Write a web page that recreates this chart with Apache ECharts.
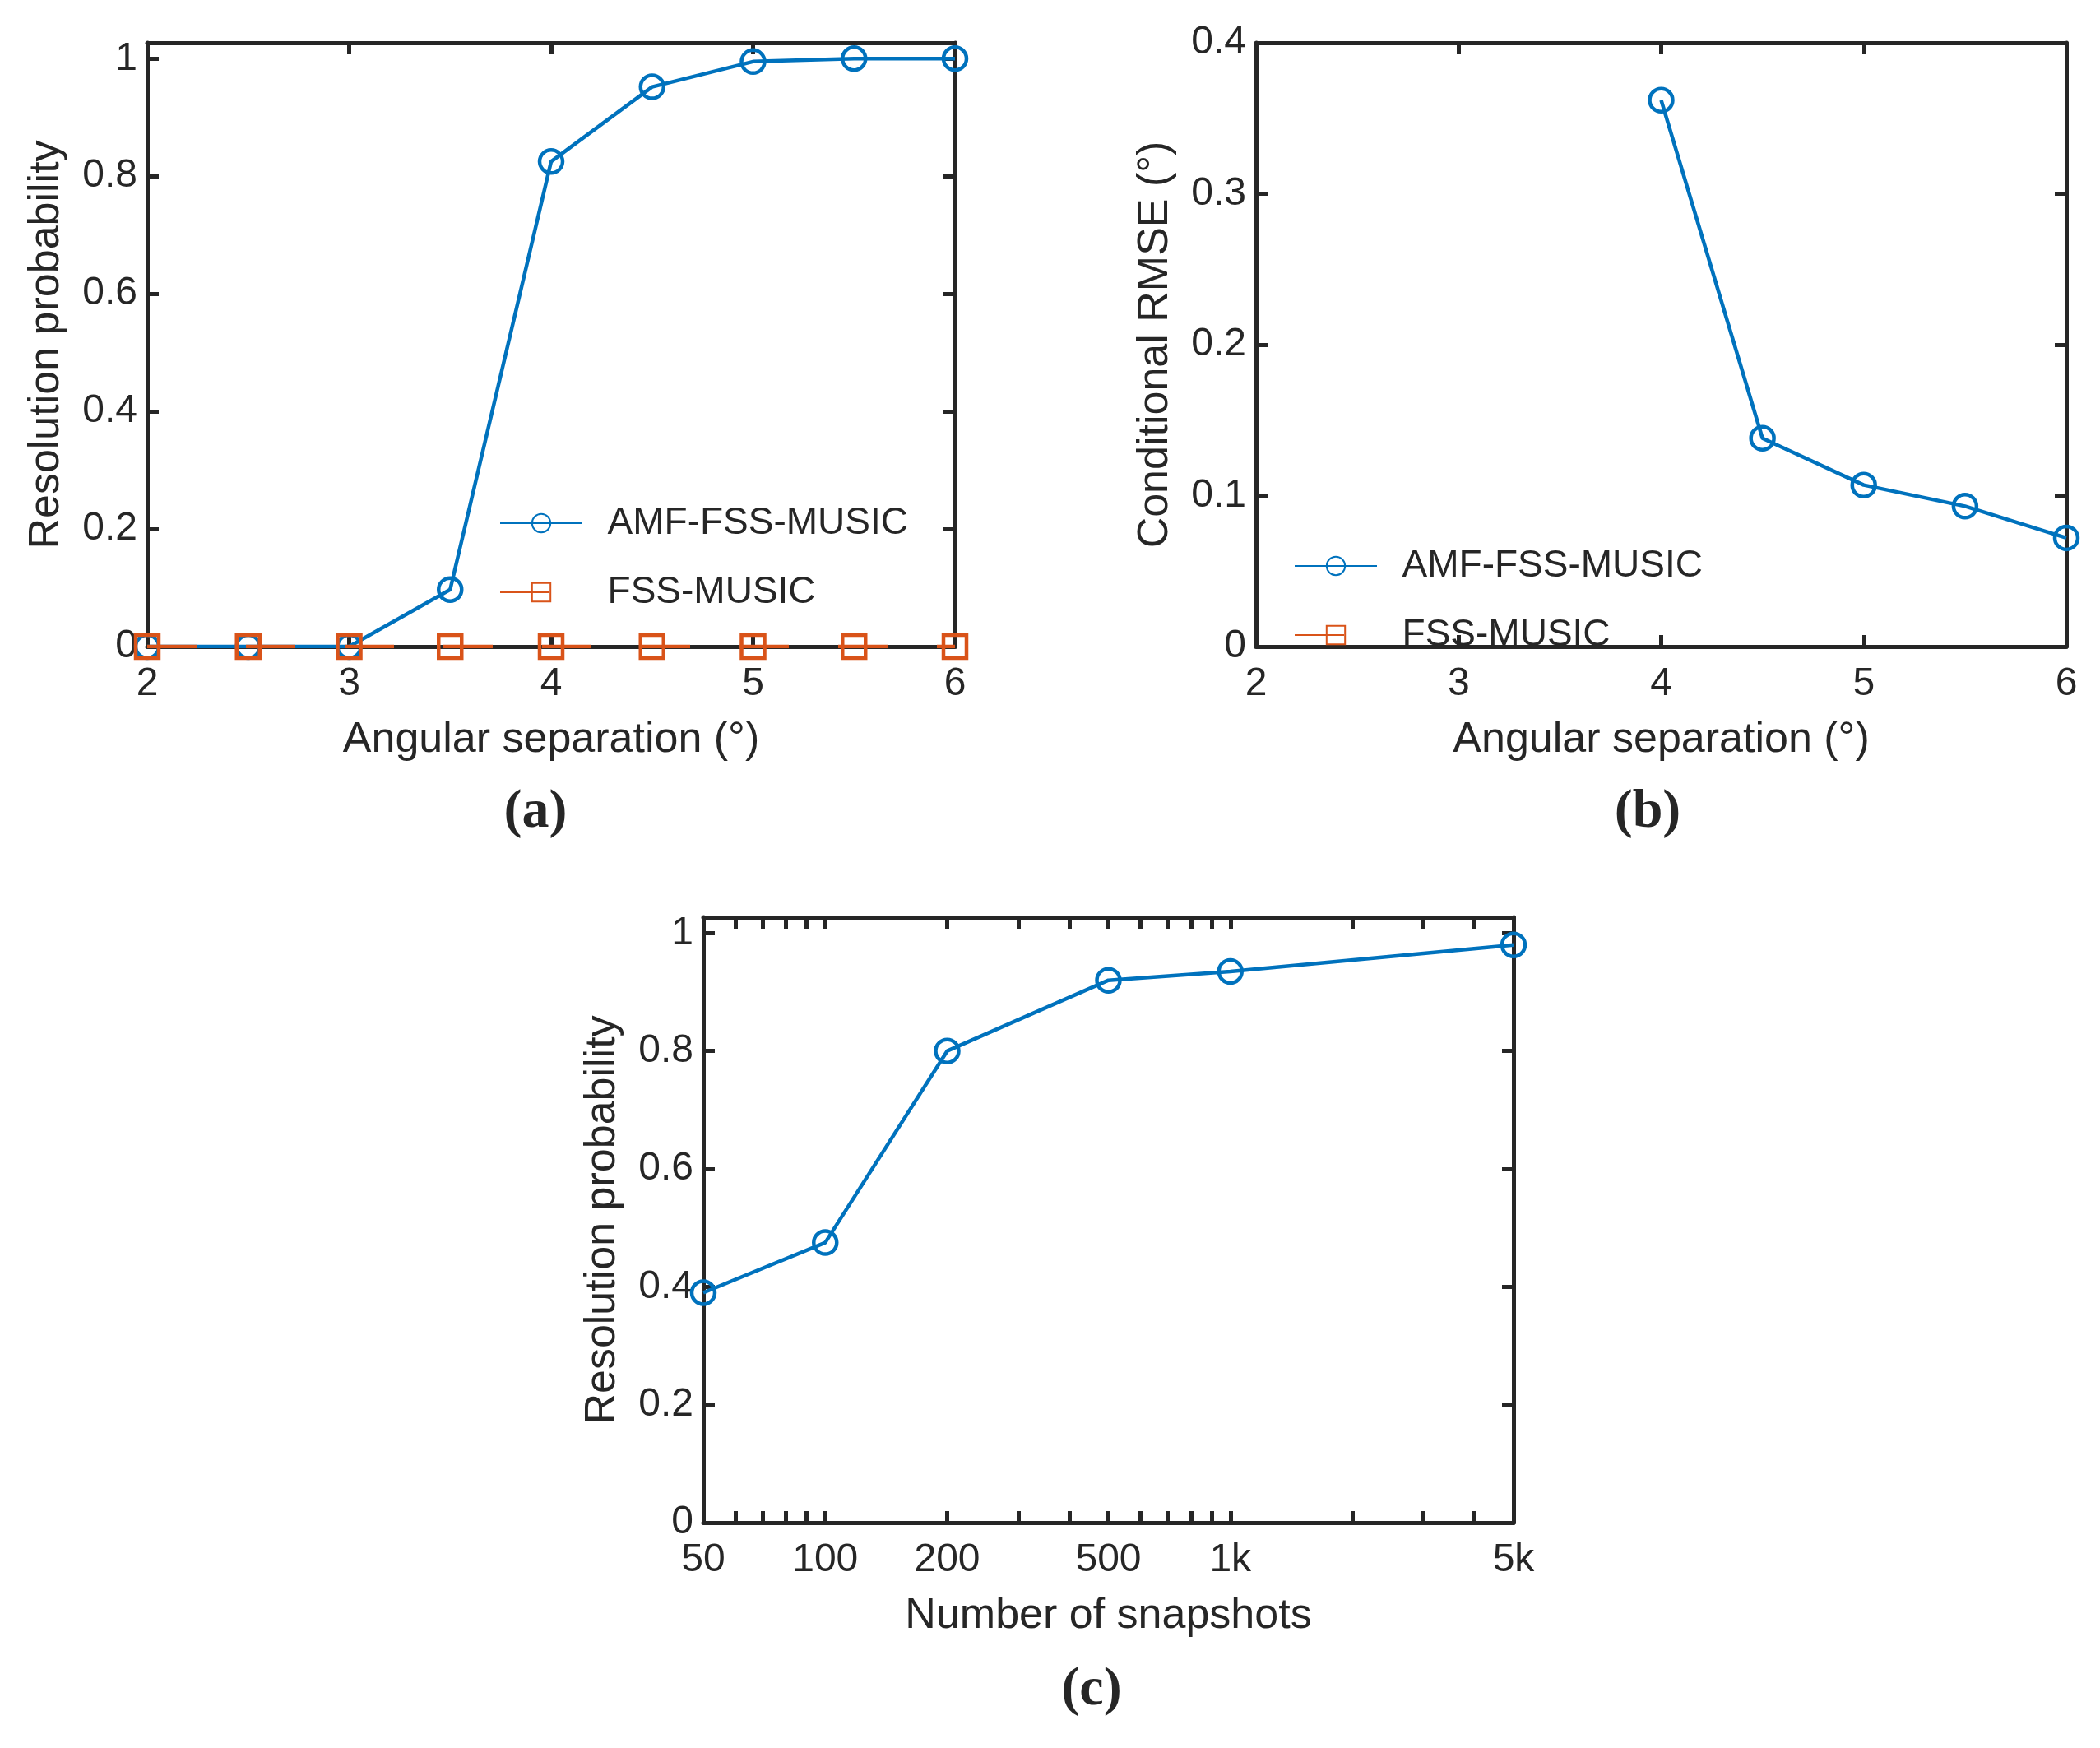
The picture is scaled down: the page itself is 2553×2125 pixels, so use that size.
<!DOCTYPE html>
<html>
<head>
<meta charset="utf-8">
<script src="https://cdn.jsdelivr.net/npm/echarts@6/dist/echarts.min.js"></script>
<style>
  html, body { margin: 0; padding: 0; background: #fff; }
  #main { width: 2553px; height: 2125px; }
</style>
</head>
<body>
<div id="main"></div>
<script>
'use strict';

// panel (a): resolution probability vs angular separation
var sepA = [2, 2.5, 3, 3.5, 4, 4.5, 5, 5.5, 6];
var amfA = [0, 0, 0, 0.097, 0.825, 0.952, 0.995, 1, 1];
var fssA = [0, 0, 0, 0, 0, 0, 0, 0, 0];

// panel (b): conditional RMSE vs angular separation
var sepB = [4, 4.5, 5, 5.5, 6];
var amfB = [0.362, 0.138, 0.107, 0.093, 0.072];

// panel (c): resolution probability vs snapshots (log x)
var snaps = [50, 100, 200, 500, 1000, 5000];
var amfC = [0.39, 0.475, 0.8, 0.92, 0.935, 0.98];
var snapTicks = [50, 100, 200, 500, 1000, 5000];
var snapLabels = ['50', '100', '200', '500', '1k', '5k'];
var snapMinor = [50, 60, 70, 80, 90, 100, 200, 300, 400, 500, 600, 700, 800, 900, 1000, 2000, 3000, 4000, 5000];
var probTicks = [0, 0.2, 0.4, 0.6, 0.8, 1];

var BLUE = '#0072BD', RED = '#D95319', INK = '#262626';
var FONT = 'Liberation Sans';

function zip(xs, ys) {
  return xs.map(function (x, i) { return [x, ys[i]]; });
}
function log10(v) { return Math.log(v) / Math.LN10; }

var tickStyle = { show: true, inside: true, length: 14, lineStyle: { color: INK, width: 5 } };
var lineStyle = { show: true, onZero: false, lineStyle: { color: INK, width: 5 } };
var labelStyle = { color: INK, fontFamily: FONT, fontSize: 48 };
var nameStyle = { color: INK, fontFamily: FONT, fontSize: 52 };
var DEG = '(\u00B0)';

function bottomX(grid, min, max, name, extra) {
  var a = {
    type: 'value', gridIndex: grid, min: min, max: max, interval: 1, position: 'bottom',
    axisLine: lineStyle, axisTick: tickStyle, splitLine: { show: false },
    axisLabel: Object.assign({ margin: 22 }, labelStyle),
    name: name, nameLocation: 'middle', nameGap: 88, nameTextStyle: nameStyle
  };
  return Object.assign(a, extra || {});
}
function topX(grid, min, max, extra) {
  var a = {
    type: 'value', gridIndex: grid, min: min, max: max, interval: 1, position: 'top',
    axisLine: lineStyle, axisTick: tickStyle, axisLabel: { show: false }, splitLine: { show: false }
  };
  return Object.assign(a, extra || {});
}
function leftY(grid, max, interval, name, gap, custom) {
  var a = {
    type: 'value', gridIndex: grid, min: 0, max: max, interval: interval, position: 'left',
    axisLine: lineStyle, axisTick: Object.assign({}, tickStyle), splitLine: { show: false },
    axisLabel: Object.assign({ margin: 12 }, labelStyle),
    name: name, nameLocation: 'middle', nameGap: gap, nameTextStyle: nameStyle
  };
  if (custom) {
    a.axisLabel.customValues = custom;
    a.axisTick.customValues = custom;
  }
  return a;
}
function rightY(grid, max, interval, custom) {
  var a = {
    type: 'value', gridIndex: grid, min: 0, max: max, interval: interval, position: 'right',
    axisLine: lineStyle, axisTick: Object.assign({}, tickStyle), axisLabel: { show: false }, splitLine: { show: false }
  };
  if (custom) a.axisTick.customValues = custom;
  return a;
}

var cTickVals = snapTicks.map(log10);
var cMinorVals = snapMinor.map(log10);
var cMin = log10(50), cMax = log10(5000);

function mk(name, xi, data, sym, col, z) {
  return {
    name: name, type: 'line', xAxisIndex: xi, yAxisIndex: xi, data: data,
    symbol: sym, symbolSize: 28, color: col, z: z || 2,
    lineStyle: { width: 4.5, color: col },
    itemStyle: { color: 'rgba(0,0,0,0)', borderColor: col, borderWidth: 4.5 }
  };
}

var series = [
  mk('AMF-FSS-MUSIC', 0, zip(sepA, amfA), 'circle', BLUE, 3),
  mk('FSS-MUSIC', 0, zip(sepA, fssA), 'rect', RED, 4),
  mk('AMF-FSS-MUSIC', 2, zip(sepB, amfB), 'circle', BLUE),
  mk('FSS-MUSIC', 2, [], 'rect', RED),
  mk('c', 4, zip(snaps.map(log10), amfC), 'circle', BLUE)
];
// dashed look of the x axis under the orange line in (a)
series[1].lineStyle.type = [60, 60];

var legendText = { color: INK, fontFamily: FONT, fontSize: 46 };

var option = {
  backgroundColor: '#fff',
  animation: false,
  grid: [
    { left: 179, top: 52, width: 982, height: 734 },
    { left: 1527, top: 52, width: 985, height: 734 },
    { left: 855, top: 1115, width: 985, height: 736 }
  ],
  title: [
    { text: '(a)', left: 646, top: 950, textAlign: 'center', textStyle: { fontFamily: 'Liberation Serif', fontWeight: 'bold', fontSize: 66, color: INK } },
    { text: '(b)', left: 1998, top: 950, textAlign: 'center', textStyle: { fontFamily: 'Liberation Serif', fontWeight: 'bold', fontSize: 66, color: INK } },
    { text: '(c)', left: 1322, top: 2017, textAlign: 'center', textStyle: { fontFamily: 'Liberation Serif', fontWeight: 'bold', fontSize: 66, color: INK } }
  ],
  legend: [
    { left: 602, top: 608, orient: 'vertical', itemWidth: 100, itemHeight: 28, itemGap: 38,
      data: ['AMF-FSS-MUSIC', 'FSS-MUSIC'], textStyle: legendText,
      formatter: function (n) { return '  ' + n; } },
    { left: 1568, top: 660, orient: 'vertical', itemWidth: 100, itemHeight: 28, itemGap: 38,
      data: ['AMF-FSS-MUSIC', 'FSS-MUSIC'], textStyle: legendText,
      formatter: function (n) { return '  ' + n; } }
  ],
  xAxis: [
    bottomX(0, 2, 6, 'Angular separation ' + DEG),
    topX(0, 2, 6),
    bottomX(1, 2, 6, 'Angular separation ' + DEG),
    topX(1, 2, 6),
    bottomX(2, cMin, cMax, 'Number of snapshots', {
      interval: null,
      axisLabel: Object.assign({ margin: 22, customValues: cTickVals, formatter: function (v) {
        var i = cTickVals.findIndex(function (t) { return Math.abs(t - v) < 1e-6; });
        return i >= 0 ? snapLabels[i] : '';
      } }, labelStyle),
      axisTick: Object.assign({}, tickStyle, { customValues: cMinorVals })
    }),
    topX(2, cMin, cMax, { interval: null, axisTick: Object.assign({}, tickStyle, { customValues: cMinorVals }) })
  ],
  yAxis: [
    leftY(0, 1.027, 0.2, 'Resolution probability', 96, probTicks),
    rightY(0, 1.027, 0.2, probTicks),
    leftY(1, 0.4, 0.1, 'Conditional RMSE ' + DEG, 96),
    rightY(1, 0.4, 0.1),
    leftY(2, 1.027, 0.2, 'Resolution probability', 96, probTicks),
    rightY(2, 1.027, 0.2, probTicks)
  ],
  series: series
};

echarts.init(document.getElementById('main')).setOption(option);
</script>
</body>
</html>
